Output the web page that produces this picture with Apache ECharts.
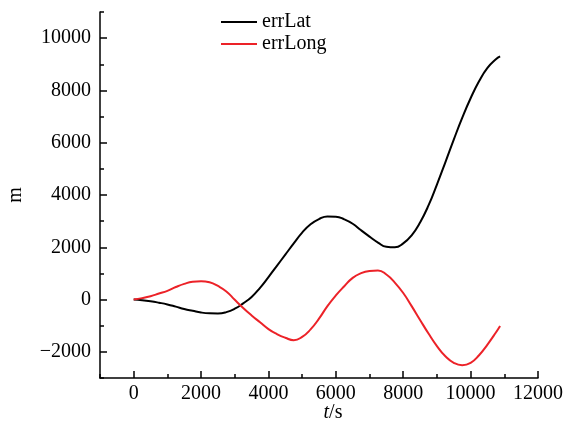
<!DOCTYPE html>
<html>
<head>
<meta charset="utf-8">
<script src="https://cdn.jsdelivr.net/npm/echarts@6/dist/echarts.min.js"></script>
<style>html,body{margin:0;padding:0;background:#fff}#c{width:564px;height:421px}</style>
</head>
<body>
<div id="c"></div>
<script>
var timeS = [0,250,500,750,1000,1250,1500,1750,2000,2250,2500,2750,3000,3250,3500,3750,4000,4250,4500,4750,5000,5250,5500,5750,6000,6250,6500,6750,7000,7250,7500,7750,8000,8250,8500,8750,9000,9250,9500,9750,10000,10250,10500,10750,10875];
var errLat = [0,-25,-65,-120,-185,-270,-360,-430,-495,-525,-530,-480,-350,-145,100,450,860,1290,1720,2150,2560,2880,3080,3180,3170,3070,2900,2650,2410,2180,2020,2000,2150,2460,2950,3600,4400,5250,6120,6950,7700,8350,8860,9190,9300];
var errLong = [0,55,128,230,335,480,600,680,700,660,520,310,-10,-320,-605,-870,-1130,-1320,-1460,-1555,-1430,-1140,-730,-250,160,510,830,1010,1095,1115,960,650,250,-250,-780,-1300,-1780,-2170,-2420,-2510,-2420,-2130,-1720,-1260,-1010];
var xMajorTicks = [0,2000,4000,6000,8000,10000,12000];
var yMajorTicks = [-2000,0,2000,4000,6000,8000,10000];

var font = 'Liberation Serif';
function pairs(xs, ys){ return xs.map(function(x,i){ return [x, ys[i]]; }); }
function fmt(v){ return String(v).replace('-', '\u2212'); }

var chart = echarts.init(document.getElementById('c'), null, {renderer:'canvas'});
chart.setOption({
  animation:false,
  backgroundColor:'#fff',
  grid:{left:100, right:26, top:12, bottom:43, containLabel:false, outerBoundsMode:'none'},
  legend:{
    orient:'vertical', left:221, top:12, padding:0, itemWidth:36, itemHeight:2, itemGap:2, icon:'rect',
    textStyle:{fontFamily:font, fontSize:20, color:'#000', lineHeight:18},
    data:['errLat','errLong']
  },
  xAxis:[{
    type:'value', min:-1000, max:12000,
    name:'{i|t}/s', nameLocation:'middle', nameGap:25, nameMoveOverlap:false,
    nameTextStyle:{fontFamily:font, fontSize:20, color:'#000', padding:[0,0,0,28],
      rich:{i:{fontFamily:font, fontSize:20, fontStyle:'italic', color:'#000'}}},
    axisLine:{onZero:false, lineStyle:{color:'#000', width:1.5}},
    axisTick:{inside:true, length:7, lineStyle:{color:'#000', width:1.5}, customValues:xMajorTicks},
    axisLabel:{fontFamily:font, fontSize:20, color:'#000', margin:6, customValues:xMajorTicks, formatter:fmt},
    splitLine:{show:false}
  },{
    type:'value', min:-1000, max:12000, interval:1000, position:'bottom',
    axisLine:{show:false, onZero:false},
    axisTick:{inside:true, length:4, lineStyle:{color:'#000', width:1.5}},
    axisLabel:{show:false}, splitLine:{show:false}
  }],
  yAxis:[{
    type:'value', min:-3000, max:11000,
    name:'m', nameLocation:'middle', nameGap:74, nameMoveOverlap:false,
    nameTextStyle:{fontFamily:font, fontSize:20, color:'#000'},
    axisLine:{onZero:false, lineStyle:{color:'#000', width:1.5}},
    axisTick:{inside:true, length:7, lineStyle:{color:'#000', width:1.5}, customValues:yMajorTicks},
    axisLabel:{fontFamily:font, fontSize:20, color:'#000', margin:9, customValues:yMajorTicks, formatter:fmt},
    splitLine:{show:false}
  },{
    type:'value', min:-3000, max:11000, interval:1000, position:'left',
    axisLine:{show:false, onZero:false},
    axisTick:{inside:true, length:4, lineStyle:{color:'#000', width:1.5}},
    axisLabel:{show:false}, splitLine:{show:false}
  }],
  series:[{
    name:'errLat', type:'line', symbol:'none', smooth:true,
    data:pairs(timeS, errLat),
    lineStyle:{color:'#000', width:2}, itemStyle:{color:'#000'}
  },{
    name:'errLong', type:'line', symbol:'none', smooth:true,
    data:pairs(timeS, errLong),
    lineStyle:{color:'#ec2228', width:2}, itemStyle:{color:'#ec2228'}
  }]
});
</script>
</body>
</html>
